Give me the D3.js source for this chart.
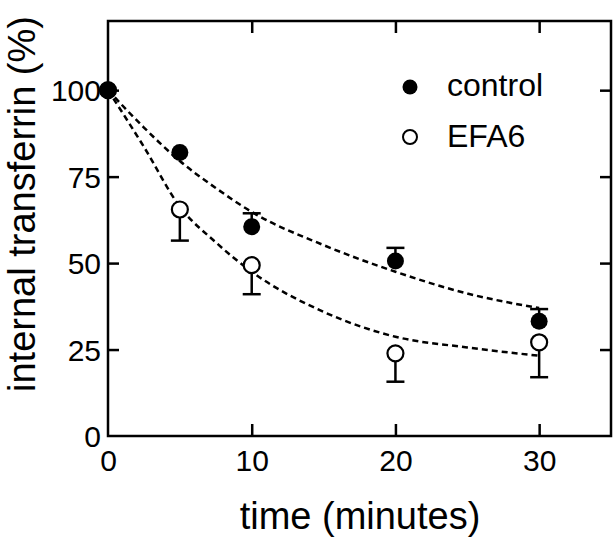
<!DOCTYPE html>
<html><head><meta charset="utf-8">
<script src="https://cdn.jsdelivr.net/npm/d3@7"></script>
<style>body{margin:0;background:#fff}svg{display:block}text{font-family:"Liberation Sans",Arial,sans-serif;fill:#000}</style>
</head><body>
<svg id="c" width="614" height="542"></svg>
<script>
const times = [0, 5, 10, 20, 30];
const controlVals = [100, 82, 60.5, 50.6, 33.2];
const controlErrTop = [100, 82, 64.4, 54.4, 36.7];
const efaVals = [100, 65.5, 49.4, 23.9, 27.1];
const efaErrBottom = [100, 56.5, 41.0, 15.7, 17.0];
const fitTimes = [0, 2.5, 5, 7.5, 10, 15, 20, 25, 30];
const controlFit = [100, 89.2, 79.5, 71.7, 64.8, 55.2, 47.5, 41.2, 37.0];
const efaFit = [100, 83.6, 66.3, 56.0, 47.5, 35.9, 28.7, 25.6, 23.2];
const xTicks = [0, 10, 20, 30];
const yTicks = [0, 25, 50, 75, 100];
const seriesNames = ["control", "EFA6"];

const svg = d3.select("#c");
const x = d3.scaleLinear().domain([0, 35]).range([108, 611]);
const y = d3.scaleLinear().domain([0, 120]).range([436, 21]);
const L = 108, R = 611, T = 21, B = 436;

const gAx = svg.append("g");
const bx = gAx.append("g").attr("transform", `translate(0,${B})`)
  .call(d3.axisBottom(x).tickValues(xTicks).tickSizeInner(-12).tickSizeOuter(0).tickPadding(14).tickFormat(d3.format("d")));
bx.selectAll(".tick line").filter(d => d === 0).remove();
bx.selectAll("text").attr("font-size", 30).attr("dy", "0.71em");
gAx.append("g").attr("transform", `translate(0,${T})`)
  .call(d3.axisTop(x).tickValues([10, 20, 30]).tickSizeInner(-12).tickSizeOuter(0).tickFormat(""));
const ly = gAx.append("g").attr("transform", `translate(${L},0)`)
  .call(d3.axisLeft(y).tickValues(yTicks).tickSizeInner(-11).tickSizeOuter(0).tickPadding(7).tickFormat(d3.format("d")));
ly.selectAll(".tick line").filter(d => d === 0).remove();
ly.selectAll("text").attr("font-size", 30).attr("dy", "0.36em");
gAx.append("g").attr("transform", `translate(${R},0)`)
  .call(d3.axisRight(y).tickValues([25, 50, 75, 100]).tickSizeInner(-11).tickSizeOuter(0).tickFormat(""));
gAx.selectAll(".domain").remove();
gAx.selectAll(".tick line").attr("stroke", "#000").attr("stroke-width", 2.5);
gAx.selectAll("text").attr("fill", "#000").attr("font-family", "Liberation Sans, Arial, sans-serif");

svg.append("rect").attr("x", L).attr("y", T).attr("width", R - L).attr("height", B - T)
  .attr("fill", "none").attr("stroke", "#000").attr("stroke-width", 2.5);

const line = d3.line().x(d => x(d[0])).y(d => y(d[1])).curve(d3.curveMonotoneX);
[controlFit, efaFit].forEach(vals => {
  svg.append("path").datum(fitTimes.map((t, i) => [t, vals[i]]))
    .attr("d", line).attr("fill", "none").attr("stroke", "#000")
    .attr("stroke-width", 2.5).attr("stroke-dasharray", "6,4");
});

const cap = 9;
function errBars(ends, vals) {
  times.forEach((t, i) => {
    if (ends[i] === vals[i]) return;
    const g = svg.append("g").attr("stroke", "#000").attr("stroke-width", 2.5);
    g.append("line").attr("x1", x(t)).attr("x2", x(t)).attr("y1", y(vals[i])).attr("y2", y(ends[i]));
    g.append("line").attr("x1", x(t) - cap).attr("x2", x(t) + cap).attr("y1", y(ends[i])).attr("y2", y(ends[i]));
  });
}
errBars(controlErrTop, controlVals);
errBars(efaErrBottom, efaVals);

svg.append("g").selectAll("circle").data(times).join("circle")
  .attr("cx", t => x(t)).attr("cy", (t, i) => y(efaVals[i])).attr("r", 8)
  .attr("fill", "#fff").attr("stroke", "#000").attr("stroke-width", 2.2);
svg.append("g").selectAll("circle").data(times).join("circle")
  .attr("cx", t => x(t)).attr("cy", (t, i) => y(controlVals[i])).attr("r", 8.5)
  .attr("fill", "#000");

const lg = svg.append("g");
lg.append("circle").attr("cx", 410).attr("cy", 87).attr("r", 7.5).attr("fill", "#000");
lg.append("circle").attr("cx", 410).attr("cy", 137).attr("r", 7).attr("fill", "#fff").attr("stroke", "#000").attr("stroke-width", 2);
lg.append("text").attr("x", 447).attr("y", 96).attr("font-size", 32).text(seriesNames[0]);
lg.append("text").attr("x", 447).attr("y", 147).attr("font-size", 32).text(seriesNames[1]);

svg.append("text").attr("x", 360).attr("y", 529).attr("text-anchor", "middle").attr("font-size", 38).text("time (minutes)");
svg.append("text").attr("transform", "translate(35,204) rotate(-90)").attr("text-anchor", "middle").attr("font-size", 38).text("internal transferrin (%)");
</script>
</body></html>
